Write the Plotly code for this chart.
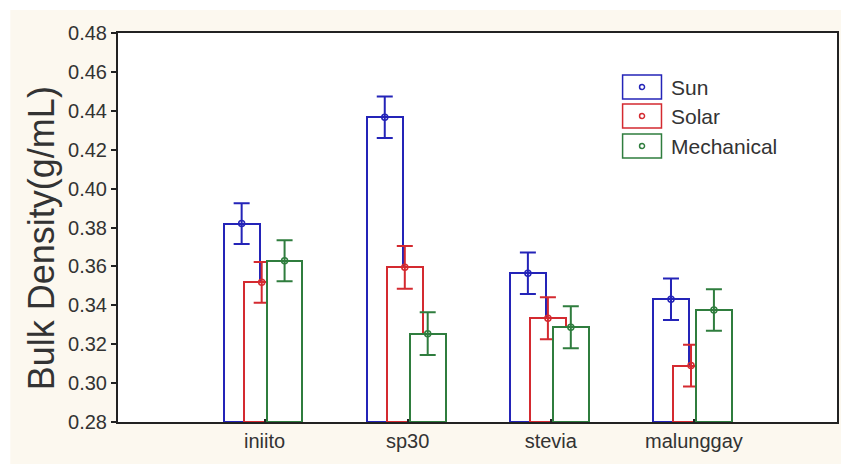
import plotly.graph_objects as go

categories = ["iniito", "sp30", "stevia", "malunggay"]
series_names = ["Sun", "Solar", "Mechanical"]
sun_vals = [0.382, 0.4367, 0.3565, 0.3431]
solar_vals = [0.3518, 0.3595, 0.3333, 0.3090]
mech_vals = [0.3629, 0.3254, 0.3287, 0.3376]
sun_err = [0.0105, 0.0107, 0.0107, 0.0107]
solar_err = [0.0105, 0.0110, 0.0108, 0.0107]
mech_err = [0.0105, 0.0110, 0.0108, 0.0107]
y_ticks = [0.28, 0.30, 0.32, 0.34, 0.36, 0.38, 0.40, 0.42, 0.44, 0.46, 0.48]

colors = ["#2424b8", "#d42a30", "#2f7d3e"]
centers = [-0.16, -0.02, 0.14]
bar_w = 0.25
font_fam = "Liberation Sans, Arial, sans-serif"
y_base = 0.28

xpos = list(range(1, len(categories) + 1))
vals = [sun_vals, solar_vals, mech_vals]
errs = [sun_err, solar_err, mech_err]

fig = go.Figure()
for name, v, e, c, off in zip(series_names, vals, errs, colors, centers):
    fig.add_trace(go.Bar(
        x=xpos, y=[val - y_base for val in v], name=name, width=bar_w,
        offset=off - bar_w / 2, base=y_base, showlegend=False,
        marker=dict(color="white", line=dict(color=c, width=2)),
        error_y=dict(type="data", array=e, color=c, thickness=2, width=8),
        hoverinfo="skip",
    ))
for name, v, c, off in zip(series_names, vals, colors, centers):
    fig.add_trace(go.Scatter(
        x=[p + off for p in xpos], y=v, mode="markers", showlegend=False,
        marker=dict(symbol="circle-open", size=6, color=c, line=dict(width=1.5, color=c)),
        hoverinfo="skip",
    ))

L, R, T, B = 118, 839, 33, 422
W, H = R - L, B - T


def px_x(p):
    return (p - L) / W


def px_y(p):
    return (B - p) / H


shapes = [
    dict(type="rect", xref="paper", yref="paper", x0=px_x(10), x1=px_x(845),
         y0=px_y(470), y1=px_y(10), fillcolor="#fcf8ef", line=dict(width=0), layer="below"),
    dict(type="rect", xref="paper", yref="paper", x0=0, x1=1, y0=0, y1=1,
         fillcolor="white", line=dict(width=0), layer="below"),
]
annotations = []
leg_centers = [87, 116, 146]
for name, c, cy in zip(series_names, colors, leg_centers):
    shapes.append(dict(type="rect", xref="paper", yref="paper",
                       x0=px_x(624), x1=px_x(663), y0=px_y(cy + 12), y1=px_y(cy - 12),
                       fillcolor="white", line=dict(color=c, width=1.5)))
    shapes.append(dict(type="circle", xref="paper", yref="paper",
                       x0=px_x(641), x1=px_x(646), y0=px_y(cy + 2.5), y1=px_y(cy - 2.5),
                       fillcolor="white", line=dict(color=c, width=1.5)))
    annotations.append(dict(text=name, xref="paper", yref="paper", x=px_x(671), y=px_y(cy),
                            xanchor="left", yanchor="middle", showarrow=False,
                            font=dict(family=font_fam, size=21, color="#333333")))

annotations.append(dict(text="Bulk Density(g/mL)", xref="paper", yref="paper",
                        x=px_x(41), y=px_y(238), textangle=-90, xanchor="center",
                        yanchor="middle", showarrow=False,
                        font=dict(family=font_fam, size=36, color="#333333")))

fig.update_layout(
    width=841, height=464,
    margin=dict(l=L, r=841 - R, t=T, b=464 - B, pad=0),
    paper_bgcolor="white", plot_bgcolor="white",
    barmode="overlay", bargap=0,
    shapes=shapes, annotations=annotations,
    font=dict(family=font_fam, color="#333333"),
)
fig.update_xaxes(
    range=[-0.024, 5.0], tickvals=xpos, ticktext=categories,
    ticks="inside", ticklen=3, tickcolor="#222222", tickwidth=1.5,
    showline=True, linecolor="#222222", linewidth=2, mirror=True,
    showgrid=False, zeroline=False, tickfont=dict(size=20, color="#333333"),
)
fig.update_yaxes(
    range=[0.28, 0.48], tickvals=y_ticks, tickformat=".2f",
    ticks="outside", ticklen=5, tickcolor="#222222", tickwidth=1.5,
    showline=True, linecolor="#222222", linewidth=2, mirror=True,
    showgrid=False, zeroline=False, tickfont=dict(size=20, color="#333333"),
)

fig.write_html("out.html", config={"displayModeBar": False},
               post_script="document.body.style.margin='0px';document.body.style.overflow='hidden';")
